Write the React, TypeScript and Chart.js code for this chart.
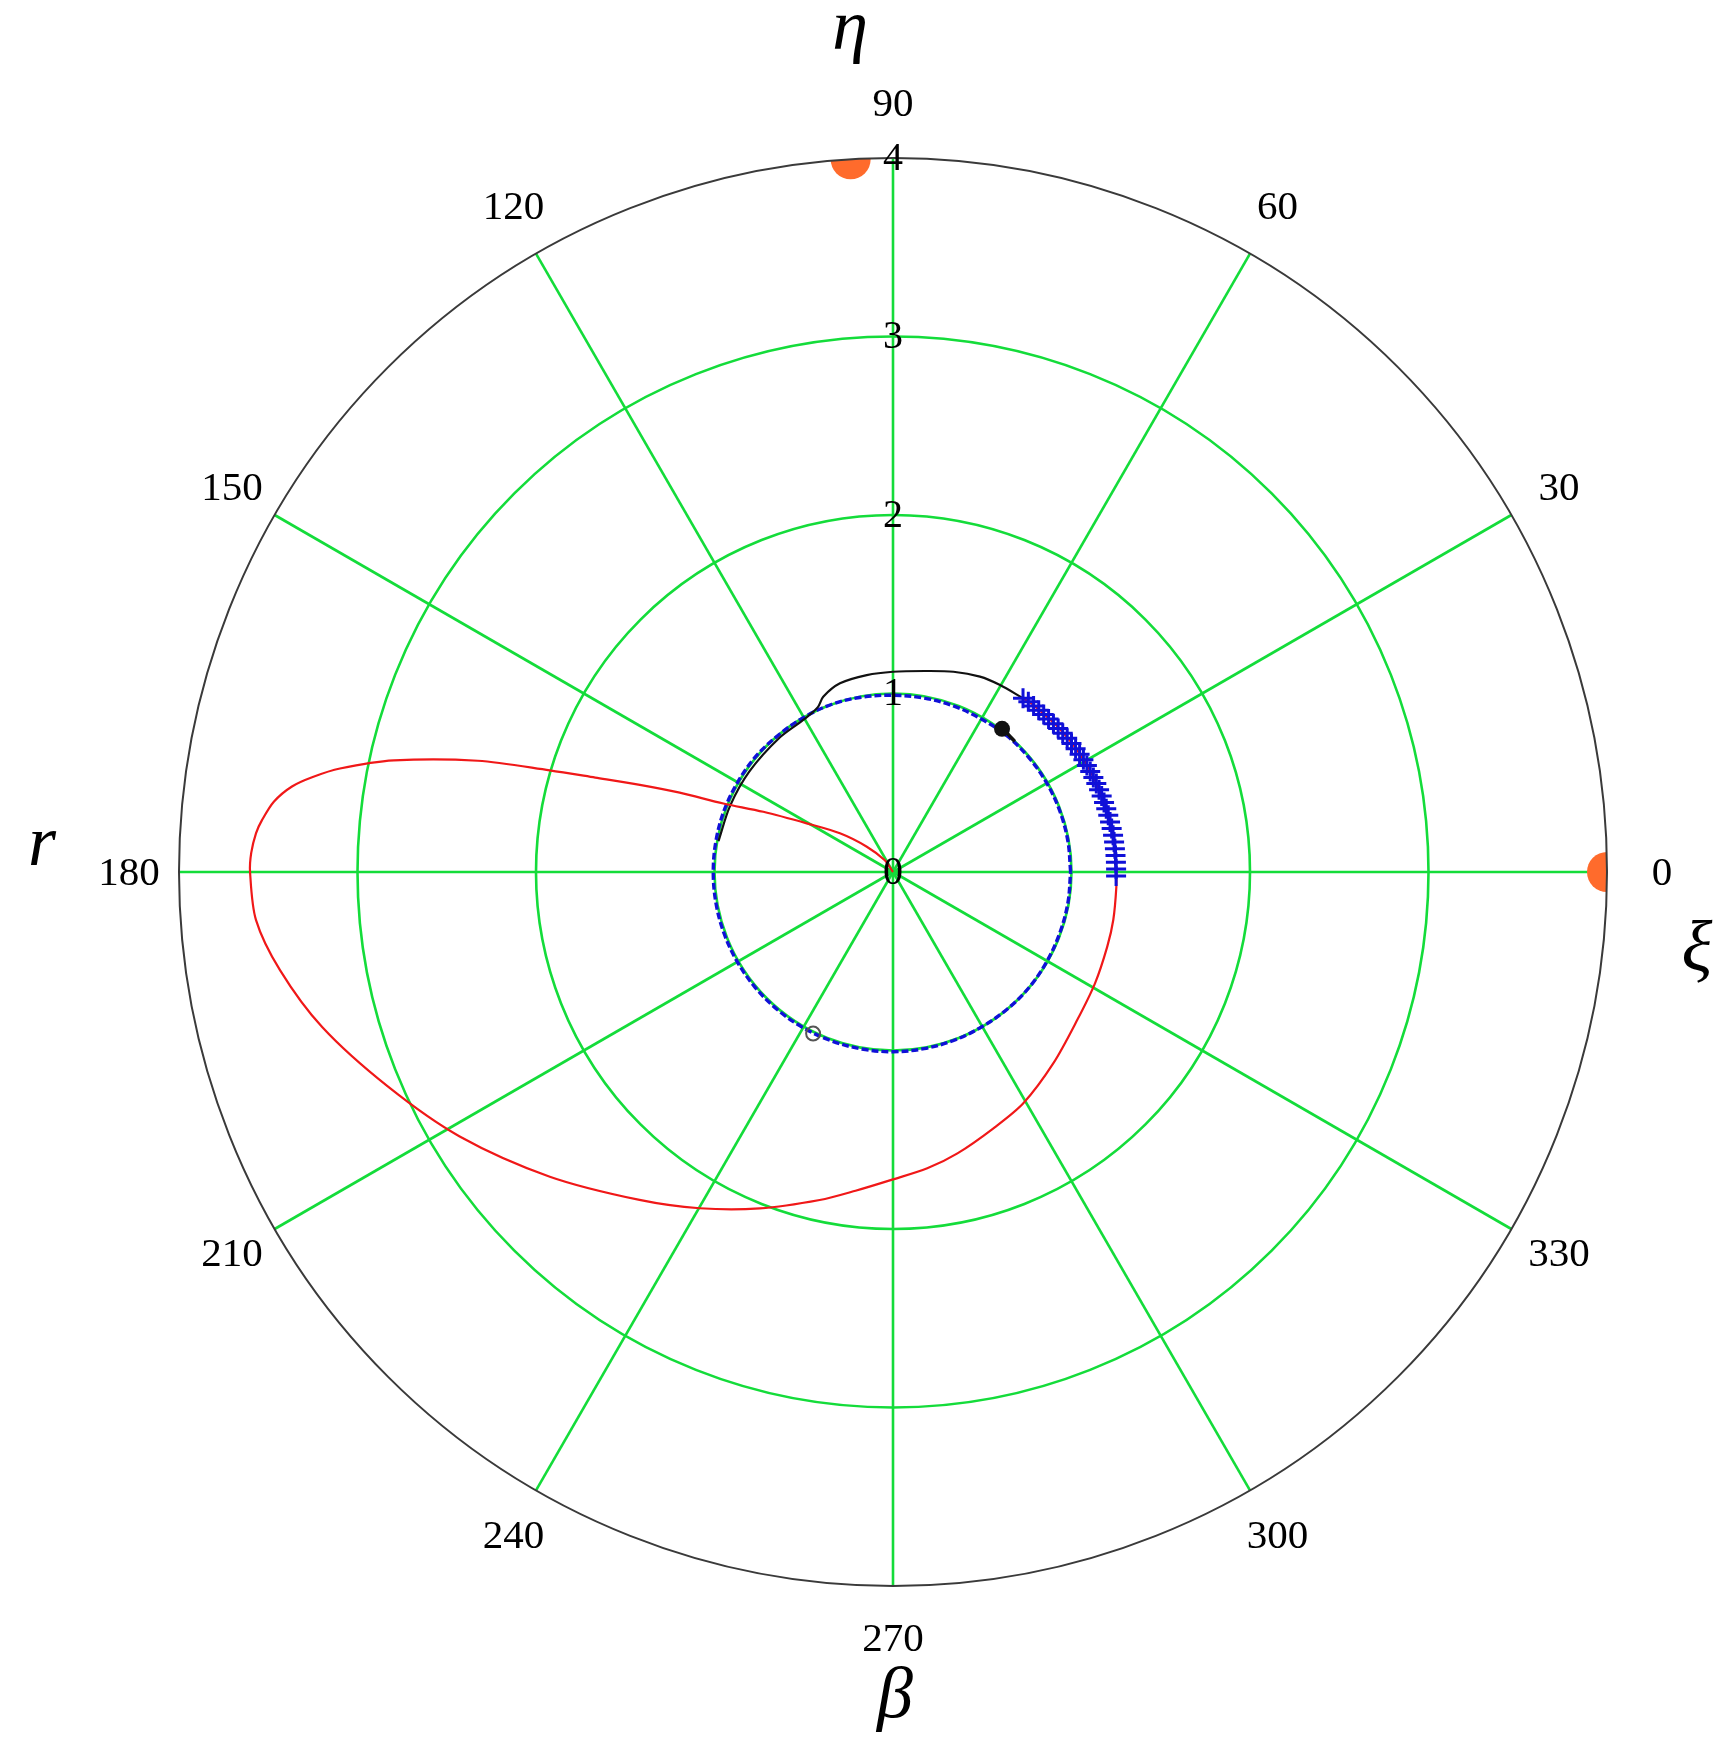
import React, { useEffect, useRef } from "react";
import { Chart, registerables } from "chart.js";

Chart.register(...registerables);

// ---------- data (angles in degrees, radii in plot units) ----------
const radialTicks = [0, 1, 2, 3, 4];
const angleTicks = [0, 30, 60, 90, 120, 150, 180, 210, 240, 270, 300, 330];
const axisLetters = { right: "ξ", top: "η", left: "r", bottom: "β" };

// red loop (starts at the pole, loops round to the right, ends among the crosses)
const redTheta = [
  110, 125, 136, 143.9, 150.6, 155.1, 158, 159.6, 161, 162.4, 163.5, 165, 167.4, 169.4,
  170.7, 171.9, 173.5, 175.3, 176.5, 178.3, 180, 184.3, 189.1, 195.2, 203, 211.4, 221.6,
  232.3, 240.1, 248.4, 257.4, 263.3, 269.7, 276.6, 282.9, 291.4, 299.4, 310, 321.2, 331.2,
  340.8, 347.7, 356.2, 360, 370, 380, 390, 400, 410, 413.5,
];
const redR = [
  0, 0.08, 0.204, 0.368, 0.555, 0.801, 1.025, 1.275, 1.5, 1.75, 2.006, 2.408, 2.865, 3.152,
  3.294, 3.401, 3.49, 3.547, 3.575, 3.597, 3.602, 3.579, 3.478, 3.314, 3.075, 2.844, 2.571,
  2.322, 2.173, 2.027, 1.883, 1.798, 1.725, 1.671, 1.617, 1.542, 1.487, 1.398, 1.324, 1.292,
  1.271, 1.263, 1.254, 1.25, 1.25, 1.245, 1.24, 1.232, 1.222, 1.215,
];

// blue cross markers along the red curve
const crossTheta = [
  -1, 0.75, 2.5, 4.25, 6, 7.75, 9.5, 11.25, 13, 14.75, 16.5, 18.25, 20, 21.75, 23.5,
  25.25, 27, 28.75, 30.5, 32.25, 34, 35.75, 37.5, 39.25, 41, 42.75, 44.5, 46.25, 48,
  49.75, 51.5, 53.2,
];
const crossR = [
  1.25, 1.25, 1.25, 1.25, 1.25, 1.25, 1.25, 1.249, 1.248, 1.247, 1.246, 1.245, 1.244,
  1.243, 1.242, 1.241, 1.24, 1.239, 1.238, 1.236, 1.234, 1.232, 1.23, 1.228, 1.226,
  1.224, 1.222, 1.221, 1.22, 1.219, 1.218, 1.216,
];

// black curve (from the last cross over the top, then along the unit circle)
const blackTheta = [53.5, 60.2, 66, 73.2, 81, 90, 97.6, 105.7, 111.7, 114.5, 120, 130, 145, 158, 170];
const blackR = [1.215, 1.207, 1.198, 1.172, 1.14, 1.122, 1.113, 1.098, 1.057, 1.015, 0.99, 0.985, 0.982, 0.985, 0.993];

// short black segment after the filled dot
const blackSegTheta = [52.7, 50, 47];
const blackSegR = [1.008, 1.005, 1.0];

// blue dashed circle
const blueTheta = [
  0, 10, 20, 30, 40, 50, 60, 70, 80, 90, 100, 110, 120, 130, 140, 150, 160, 170, 180,
  190, 200, 210, 220, 230, 240, 250, 260, 270, 280, 290, 300, 310, 320, 330, 340, 350, 360,
];
const blueR = [
  0.995, 0.995, 0.995, 0.995, 0.995, 0.995, 0.99, 0.99, 0.99, 0.99, 0.995, 1, 1, 1,
  1.005, 1.005, 1.007, 1.007, 1.007, 1.007, 1.007, 1.007, 1.007, 1.007, 1.007, 1.007,
  1.007, 1.007, 1.005, 1.003, 1, 1, 1, 0.997, 0.995, 0.995, 0.995,
];

// single markers
const dotTheta = [52.7];
const dotR = [1.008];
const openTheta = [243.7];
const openR = [1.01];
const orangeTheta = [93.4, 0];
const orangeR = [4, 4];

// ---------- colours ----------
const GREEN = "#14dc3a";
const RED = "#f01818";
const BLUE = "#1010d8";
const BLACK = "#111111";
const ORANGE = "#ff6b2c";
const FONT = "'Liberation Serif', 'Times New Roman', serif";

const toXY = (th: number[], r: number[]) =>
  th.map((t, i) => ({
    x: r[i] * Math.cos((t * Math.PI) / 180),
    y: r[i] * Math.sin((t * Math.PI) / 180),
  }));

const geom = (chart: any) => {
  const xs = chart.scales.x;
  const ys = chart.scales.y;
  const cx = xs.getPixelForValue(0);
  const cy = ys.getPixelForValue(0);
  const rmax = radialTicks[radialTicks.length - 1];
  const R = xs.getPixelForValue(rmax) - cx;
  return { xs, ys, cx, cy, rmax, R };
};

const polarGrid = {
  id: "polarGrid",
  beforeDatasetsDraw(chart: any) {
    const { ctx } = chart;
    const { xs, cx, cy, rmax, R } = geom(chart);
    ctx.save();
    ctx.strokeStyle = GREEN;
    ctx.lineWidth = 2.6;
    for (const t of radialTicks) {
      if (t <= 0 || t >= rmax) continue;
      const rp = xs.getPixelForValue(t) - cx;
      ctx.beginPath();
      ctx.arc(cx, cy, rp, 0, Math.PI * 2);
      ctx.stroke();
    }
    for (const a of angleTicks) {
      const rad = (a * Math.PI) / 180;
      ctx.beginPath();
      ctx.moveTo(cx, cy);
      ctx.lineTo(cx + R * Math.cos(rad), cy - R * Math.sin(rad));
      ctx.stroke();
    }
    ctx.restore();
  },
  beforeDatasetDraw(chart: any) {
    const { ctx } = chart;
    const { cx, cy, R } = geom(chart);
    ctx.save();
    ctx.beginPath();
    ctx.arc(cx, cy, R, 0, Math.PI * 2);
    ctx.closePath();
    ctx.clip();
  },
  afterDatasetDraw(chart: any) {
    chart.ctx.restore();
  },
  afterDatasetsDraw(chart: any) {
    const { ctx } = chart;
    const { ys, cx, cy, R } = geom(chart);
    ctx.save();
    // outer circle
    ctx.strokeStyle = "#3a3a3a";
    ctx.lineWidth = 2;
    ctx.beginPath();
    ctx.arc(cx, cy, R, 0, Math.PI * 2);
    ctx.stroke();
    // radial tick labels
    ctx.fillStyle = "#000";
    ctx.textAlign = "center";
    ctx.textBaseline = "middle";
    ctx.font = `40px ${FONT}`;
    for (const t of radialTicks) {
      const py = ys.getPixelForValue(t);
      ctx.fillText(String(t), cx, py + 1);
    }
    // angle labels
    ctx.font = `41px ${FONT}`;
    for (const a of angleTicks) {
      const rad = (a * Math.PI) / 180;
      const c = Math.cos(rad);
      const s = Math.sin(rad);
      const rr = R + 55;
      const dx = c < -0.1 ? 5 : 0;
      const dy = s < -0.1 ? -3 : 0;
      ctx.fillText(String(a), cx + rr * c + dx, cy - rr * s + 2 + dy);
    }
    // axis letters
    ctx.font = `italic 72px ${FONT}`;
    ctx.fillText(axisLetters.top, cx - 43, cy - 842);
    ctx.fillText(axisLetters.left, cx - 851, cy - 26);
    ctx.fillText(axisLetters.right, cx + 804, cy + 80);
    ctx.fillText(axisLetters.bottom, cx + 2, cy + 826);
    ctx.restore();
  },
};

export default function App() {
  const ref = useRef<HTMLCanvasElement | null>(null);
  useEffect(() => {
    document.body.style.margin = "0";
    const canvas = ref.current;
    if (!canvas) return;
    const chart = new Chart(canvas, {
      type: "scatter",
      data: {
        datasets: [
          {
            label: "orange",
            data: toXY(orangeTheta, orangeR),
            showLine: false,
            pointRadius: 20,
            pointBackgroundColor: ORANGE,
            pointBorderWidth: 0,
            pointBorderColor: ORANGE,
          },
          {
            label: "dot",
            data: toXY(dotTheta, dotR),
            showLine: false,
            pointRadius: 8,
            pointBackgroundColor: BLACK,
            pointBorderColor: BLACK,
            pointBorderWidth: 0,
          },
          {
            label: "open",
            data: toXY(openTheta, openR),
            showLine: false,
            pointRadius: 7,
            pointBackgroundColor: "rgba(255,255,255,0)",
            pointBorderColor: "#555",
            pointBorderWidth: 2,
          },
          {
            label: "crosses",
            data: toXY(crossTheta, crossR),
            showLine: false,
            pointStyle: "cross",
            pointRadius: 10,
            pointBorderColor: BLUE,
            pointBorderWidth: 3,
          },
          {
            label: "red",
            data: toXY(redTheta, redR),
            showLine: true,
            borderColor: RED,
            borderWidth: 2.2,
            pointRadius: 0,
            tension: 0.3,
          },
          {
            label: "blackSeg",
            data: toXY(blackSegTheta, blackSegR),
            showLine: true,
            borderColor: BLACK,
            borderWidth: 3.5,
            pointRadius: 0,
            tension: 0.3,
          },
          {
            label: "black",
            data: toXY(blackTheta, blackR),
            showLine: true,
            borderColor: BLACK,
            borderWidth: 2.2,
            pointRadius: 0,
            tension: 0.3,
          },
          {
            label: "blue",
            data: toXY(blueTheta, blueR),
            showLine: true,
            borderColor: BLUE,
            borderWidth: 3.4,
            borderDash: [7, 3],
            pointRadius: 0,
            tension: 0.35,
          },
        ],
      },
      options: {
        animation: false,
        responsive: true,
        maintainAspectRatio: false,
        devicePixelRatio: 1,
        layout: { padding: { left: 179, right: 121, top: 158, bottom: 167 } },
        scales: {
          x: { type: "linear", min: -4, max: 4, display: false },
          y: { type: "linear", min: -4, max: 4, display: false },
        },
        plugins: { legend: { display: false }, tooltip: { enabled: false } },
        events: [],
      },
      plugins: [polarGrid],
    });
    return () => chart.destroy();
  }, []);
  return (
    <div style={{ position: "relative", width: "1728px", height: "1753px", background: "#fff" }}>
      <canvas ref={ref} />
    </div>
  );
}
